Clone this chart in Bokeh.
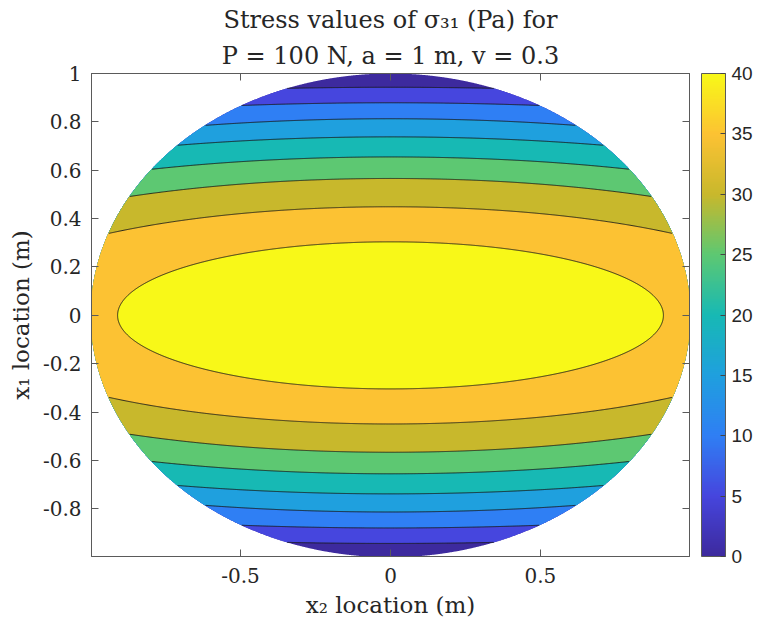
import numpy as np
from bokeh.plotting import figure
from bokeh.models import (LinearAxis, FixedTicker, Title, LinearColorMapper,
                          ColorBar, Range1d)
from bokeh.embed import file_html
from bokeh.resources import INLINE

# ---------------- data ----------------
levels = [5, 10, 15, 20, 25, 30, 35, 40]                 # contour levels (Pa)
x1_on_axis = [0.943, 0.879, 0.813, 0.738, 0.655, 0.566, 0.449, 0.304]  # x1 where each contour crosses x2 = 0
x2_on_rim = [0.345, 0.497, 0.619, 0.711, 0.797, 0.871, 0.941]          # x2 where open contours meet the disk rim
x2_half_width_inner = 0.91                               # x2 half-width of the closed 40 Pa contour
cbar_ticks = [0, 5, 10, 15, 20, 25, 30, 35, 40]
x_ticks = [-0.5, 0, 0.5]
x_tick_labels = ["-0.5", "0", "0.5"]
y_ticks = [-0.8, -0.6, -0.4, -0.2, 0, 0.2, 0.4, 0.6, 0.8, 1]
y_tick_labels = ["-0.8", "-0.6", "-0.4", "-0.2", "0", "0.2", "0.4", "0.6", "0.8", "1"]
title_lines = ["Stress values of σ₃₁ (Pa) for", "P = 100 N, a = 1 m, v = 0.3"]
x_label = "x₂ location (m)"
y_label = "x₁ location (m)"

# ---------------- style ----------------
band_colors = ["#3d2a9e", "#4646de", "#2f7ff4", "#1fa0de", "#17b9b4",
               "#5dc872", "#c8b82c", "#fcc233", "#f8f818"]
TXT = "#262626"
SERIF = "DejaVu Serif"

X0, X1 = -0.997, 0.997
Y0, Y1 = -0.997, 1.0
FL, FR, FT, FB = 91, 689, 73, 556

p = figure(width=760, height=630, x_range=Range1d(X0, X1), y_range=Range1d(Y0, Y1),
           output_backend="svg", toolbar_location=None, title=None,
           min_border_left=FL, min_border_right=760 - FR,
           min_border_top=FT, min_border_bottom=630 - FB)
p.background_fill_color = "white"
p.border_fill_color = "white"
p.outline_line_color = "#5a5a5a"
p.xgrid.visible = False
p.ygrid.visible = False

# ---------------- contour geometry ----------------
A = []
for b, xe in zip(x1_on_axis[:-1], x2_on_rim):
    den = 1.0 - (1.0 - xe ** 2) / b ** 2
    A.append(np.sqrt(xe ** 2 / max(den, 1e-3)))
A.append(x2_half_width_inner)
B = list(x1_on_axis)

th = np.linspace(0, 2 * np.pi, 2881)
c, s = np.cos(th), np.sin(th)
xs = [c]
ys = [s]
line_x, line_y = [], []
for a, b in zip(A, B):
    re = 1.0 / np.sqrt((c / a) ** 2 + (s / b) ** 2)
    r = np.minimum(re, 1.0)
    xs.append(r * c)
    ys.append(r * s)
    line_x.append(np.where(re <= 1.0, re * c, np.nan))
    line_y.append(np.where(re <= 1.0, re * s, np.nan))

p.patches(xs=[list(v) for v in xs], ys=[list(v) for v in ys],
          fill_color=band_colors, line_alpha=0)
for lx, ly in zip(line_x, line_y):
    p.line(lx, ly, line_color="#1a1a1a", line_width=0.9)

# ---------------- axes ----------------
for ax, ticks, labels in ((p.xaxis[0], x_ticks, x_tick_labels),
                          (p.yaxis[0], y_ticks, y_tick_labels)):
    ax.ticker = FixedTicker(ticks=ticks)
    ax.major_label_overrides = {t: l for t, l in zip(ticks, labels)}
    ax.major_tick_in = 7
    ax.major_tick_out = 0
    ax.minor_tick_line_color = None
    ax.axis_line_color = "#5a5a5a"
    ax.major_tick_line_color = "#5a5a5a"
    ax.major_label_text_font = SERIF
    ax.major_label_text_font_size = "20px"
    ax.major_label_text_color = TXT
    ax.axis_label_text_font = SERIF
    ax.axis_label_text_font_size = "23px"
    ax.axis_label_text_font_style = "normal"
    ax.axis_label_text_color = TXT
p.xaxis[0].major_label_standoff = 11
p.yaxis[0].major_label_standoff = 10
p.xaxis[0].axis_label = x_label
p.yaxis[0].axis_label = y_label
p.xaxis[0].axis_label_standoff = 6
p.yaxis[0].axis_label_standoff = 6

top_ax = LinearAxis(ticker=FixedTicker(ticks=x_ticks))
right_ax = LinearAxis(ticker=FixedTicker(ticks=y_ticks))
for ax, ticks in ((top_ax, x_ticks), (right_ax, y_ticks)):
    ax.major_label_overrides = {t: "" for t in ticks}
    ax.major_label_text_font_size = "0px"
    ax.major_label_standoff = 0
    ax.major_tick_in = 7
    ax.major_tick_out = 0
    ax.minor_tick_line_color = None
    ax.axis_line_color = "#5a5a5a"
    ax.major_tick_line_color = "#5a5a5a"
# a blank axis label on the right axis gives the gap between frame and colorbar
right_ax.axis_label = " "
right_ax.axis_label_text_font_size = "8px"
right_ax.axis_label_standoff = 0
p.add_layout(top_ax, "above")
p.add_layout(right_ax, "right")

# ---------------- title (two centred lines) ----------------
t2 = Title(text=title_lines[1], align="center", text_font=SERIF,
           text_font_size="24px", text_font_style="normal", text_color=TXT,
           standoff=8)
t1 = Title(text=title_lines[0], align="center", text_font=SERIF,
           text_font_size="24px", text_font_style="normal", text_color=TXT,
           standoff=4)
p.add_layout(t2, "above")
p.add_layout(t1, "above")

# ---------------- colorbar ----------------
def hex2rgb(h):
    return np.array([int(h[i:i + 2], 16) for i in (1, 3, 5)], dtype=float)


anch = np.array([hex2rgb(h) for h in band_colors])
tpos = np.linspace(0, 1, len(band_colors))
palette = []
for t in np.linspace(0, 1, 256):
    rgb = [np.interp(t, tpos, anch[:, k]) for k in range(3)]
    palette.append("#%02x%02x%02x" % tuple(int(round(v)) for v in rgb))

mapper = LinearColorMapper(palette=palette, low=cbar_ticks[0], high=cbar_ticks[-1])
cb = ColorBar(color_mapper=mapper, ticker=FixedTicker(ticks=cbar_ticks),
              width=24, padding=0, margin=0, label_standoff=6,
              major_label_text_font="Liberation Sans",
              major_label_text_font_size="19px",
              major_label_text_color=TXT,
              major_tick_in=5, major_tick_out=0,
              major_tick_line_color="#444444",
              bar_line_color="#5a5a5a",
              border_line_color=None, background_fill_alpha=0)
p.add_layout(cb, "right")

open("out.html", "w").write(file_html(p, INLINE))
